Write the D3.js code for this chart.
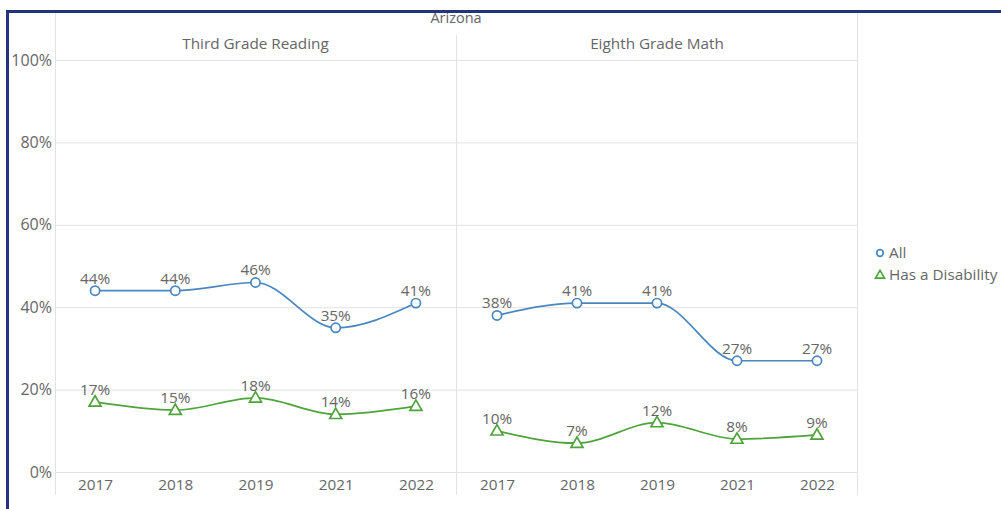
<!DOCTYPE html>
<html>
<head>
<meta charset="utf-8">
<script src="https://cdn.jsdelivr.net/npm/d3@7"></script>
<style>
  html, body { margin: 0; padding: 0; background: #fff; }
  svg { display: block; font-family: "Open Sans", sans-serif; }
</style>
</head>
<body>
<svg id="chart" width="1001" height="509"></svg>
<script>
const title = "Arizona";
const panels = ["Third Grade Reading", "Eighth Grade Math"];
const years = ["2017", "2018", "2019", "2021", "2022"];
const seriesNames = ["All", "Has a Disability"];
const readingAll = [44, 44, 46, 35, 41];
const readingDisability = [17, 15, 18, 14, 16];
const mathAll = [38, 41, 41, 27, 27];
const mathDisability = [10, 7, 12, 8, 9];
const yTicks = [0, 20, 40, 60, 80, 100];

const panelData = [
  [readingAll, readingDisability],
  [mathAll, mathDisability]
];
const colors = ["#4a86c0", "#4ea33b"];

const svg = d3.select("#chart");
const plotTop = 60, plotBottom = 472;
const panelX = [[55, 456], [457, 857]];
const y = d3.scaleLinear().domain([0, 100]).range([plotBottom, plotTop]);
const textColor = "#666666";
const gridColor = "#e2e2e2";
const fs = 15.3;

// border
svg.append("rect").attr("x", 7.5).attr("y", 11.5).attr("width", 1100).attr("height", 600)
  .attr("fill", "none").attr("stroke", "#24337a").attr("stroke-width", 3);

// title
svg.append("text").attr("x", 456).attr("y", 23).attr("text-anchor", "middle")
  .attr("font-size", 14.5).attr("fill", textColor).text(title);

// horizontal gridlines
svg.append("g").selectAll("line").data(yTicks).join("line")
  .attr("x1", 55).attr("x2", 857)
  .attr("y1", d => y(d) + 0.5).attr("y2", d => y(d) + 0.5)
  .attr("stroke", gridColor).attr("stroke-width", 1);

// vertical panel separators
svg.append("line").attr("x1", 55.5).attr("x2", 55.5).attr("y1", 13).attr("y2", 495).attr("stroke", gridColor);
svg.append("line").attr("x1", 456.5).attr("x2", 456.5).attr("y1", 35).attr("y2", 495).attr("stroke", gridColor);
svg.append("line").attr("x1", 857.5).attr("x2", 857.5).attr("y1", 13).attr("y2", 495).attr("stroke", gridColor);

// y axis
const yAxis = d3.axisLeft(y).tickValues(yTicks).tickFormat(d => d + "%").tickSize(0).tickPadding(3);
const ya = svg.append("g").attr("transform", "translate(55,0)").call(yAxis);
ya.select(".domain").remove();
ya.selectAll("text").attr("font-size", 16).attr("fill", textColor).attr("font-family", "Open Sans, sans-serif").attr("dy", "0.32em");

const line = d3.line().curve(d3.curveMonotoneX);
const triPath = s => `M0,${-s*0.62}L${s*0.6},${s*0.42}L${-s*0.6},${s*0.42}Z`;

panels.forEach((name, p) => {
  const [x0, x1] = panelX[p];
  const x = d3.scalePoint().domain(years).range([x0, x1]).padding(0.5);
  const g = svg.append("g");

  g.append("text").attr("x", (x0 + x1) / 2).attr("y", 49).attr("text-anchor", "middle")
    .attr("font-size", fs).attr("fill", textColor).text(name);

  const xAxis = d3.axisBottom(x).tickSize(0).tickPadding(7);
  const xa = g.append("g").attr("transform", `translate(0,${plotBottom})`).call(xAxis);
  xa.select(".domain").remove();
  xa.selectAll("text").attr("font-size", fs).attr("fill", textColor).attr("font-family", "Open Sans, sans-serif");

  panelData[p].forEach((vals, s) => {
    const pts = vals.map((v, i) => [x(years[i]), y(v)]);
    g.append("path").attr("d", line(pts)).attr("fill", "none")
      .attr("stroke", colors[s]).attr("stroke-width", 1.7);
    if (s === 0) {
      g.selectAll(null).data(pts).join("circle")
        .attr("cx", d => d[0]).attr("cy", d => d[1]).attr("r", 4.6)
        .attr("fill", "#fff").attr("stroke", colors[s]).attr("stroke-width", 1.7);
    } else {
      g.selectAll(null).data(pts).join("path")
        .attr("transform", d => `translate(${d[0]},${d[1]})`)
        .attr("d", triPath(10))
        .attr("fill", "#fff").attr("stroke", colors[s]).attr("stroke-width", 1.7);
    }
    g.selectAll(null).data(vals).join("text")
      .attr("x", (d, i) => x(years[i])).attr("y", d => y(d) - 7)
      .attr("text-anchor", "middle").attr("font-size", fs).attr("fill", textColor)
      .text(d => d + "%");
  });
});

// legend
const lg = svg.append("g");
seriesNames.forEach((n, s) => {
  const ly = 253 + s * 22;
  if (s === 0) {
    lg.append("circle").attr("cx", 880).attr("cy", ly).attr("r", 3.3)
      .attr("fill", "#fff").attr("stroke", colors[s]).attr("stroke-width", 1.7);
  } else {
    lg.append("path").attr("transform", `translate(880,${ly})`).attr("d", triPath(7.5))
      .attr("fill", "#fff").attr("stroke", colors[s]).attr("stroke-width", 1.7);
  }
  lg.append("text").attr("x", 889).attr("y", ly).attr("dy", "0.35em")
    .attr("font-size", fs).attr("fill", textColor).text(n);
});
</script>
</body>
</html>
